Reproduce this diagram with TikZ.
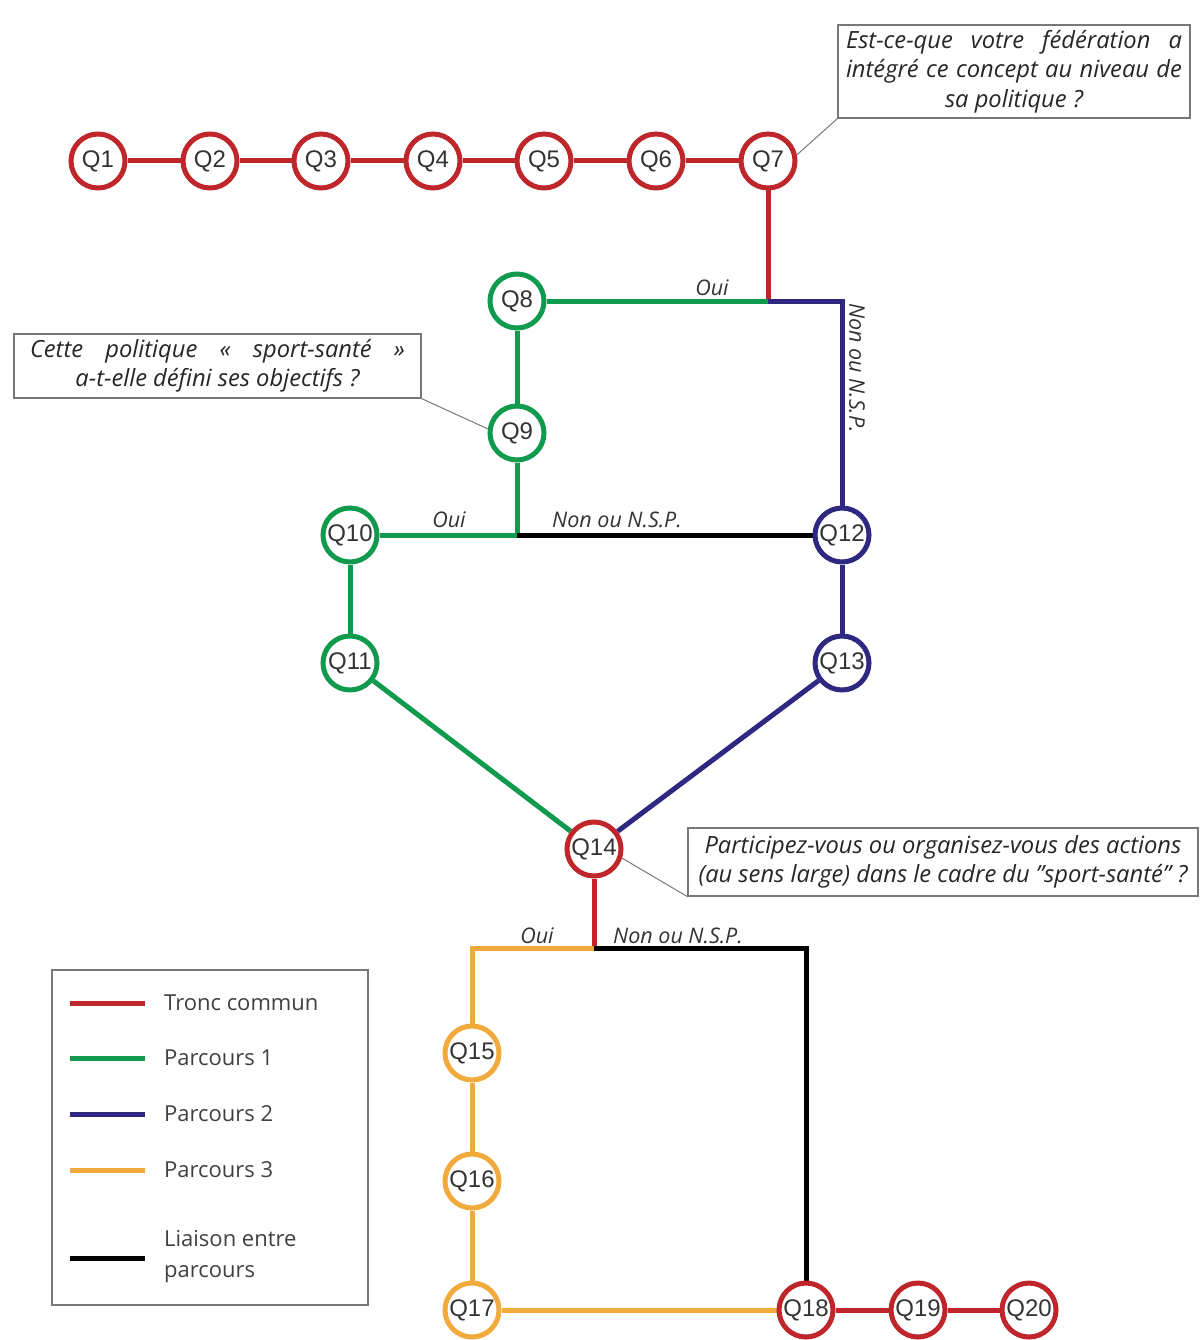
\documentclass[tikz,border=0pt]{standalone}
\usepackage{fontspec}
\setmainfont{Open Sans}
\newfontfamily\qfont{Liberation Sans}
\usetikzlibrary{backgrounds}
\definecolor{cred}{RGB}{190,38,44}
\definecolor{cgreen}{RGB}{16,154,78}
\definecolor{cpurple}{RGB}{46,40,128}
\definecolor{corange}{RGB}{242,170,60}
\definecolor{cgray}{RGB}{120,120,120}
\begin{document}
\begin{tikzpicture}[x=1pt,y=-1pt,
  q/.style={circle,draw,line width=5pt,fill=white,minimum size=54pt,inner sep=0pt,font=\qfont\fontsize{24}{26}\selectfont,text=black!80},
  qr/.style={q,draw=cred}, qg/.style={q,draw=cgreen}, qp/.style={q,draw=cpurple}, qo/.style={q,draw=corange},
  rt/.style={line width=5pt},
  lbl/.style={font=\itshape\fontsize{21.5}{23}\selectfont,text=black!80,inner sep=1pt},
  callout/.style={draw=cgray,line width=1.2pt,fill=white,inner sep=3pt,font=\itshape\fontsize{23.7}{29.5}\selectfont,text=black!85,align=center},
  pointer/.style={draw=cgray,line width=1pt},
  legtext/.style={font=\fontsize{22}{31}\selectfont,text=black!75,anchor=west,align=left,inner sep=0pt}]
\useasboundingbox (0,0) rectangle (1201,1340);
% nodes
\node[qr] (Q1) at (98,161) {Q1};
\node[qr] (Q2) at (210,161) {Q2};
\node[qr] (Q3) at (321,161) {Q3};
\node[qr] (Q4) at (433,161) {Q4};
\node[qr] (Q5) at (544,161) {Q5};
\node[qr] (Q6) at (656,161) {Q6};
\node[qr] (Q7) at (768,161) {Q7};
\node[qg] (Q8) at (517,301) {Q8};
\node[qg] (Q9) at (517,433) {Q9};
\node[qg] (Q10) at (350,535) {Q10};
\node[qg] (Q11) at (350,663) {Q11};
\node[qp] (Q12) at (842,535) {Q12};
\node[qp] (Q13) at (842,663) {Q13};
\node[qr] (Q14) at (594,849) {Q14};
\node[qo] (Q15) at (472,1053) {Q15};
\node[qo] (Q16) at (472,1181) {Q16};
\node[qo] (Q17) at (472,1310) {Q17};
\node[qr] (Q18) at (806,1310) {Q18};
\node[qr] (Q19) at (918,1310) {Q19};
\node[qr] (Q20) at (1029,1310) {Q20};
\coordinate (j1) at (768,301);
\coordinate (j1r) at (842,301);
\coordinate (j2) at (517,535);
\coordinate (j3) at (594,948);
\coordinate (j3l) at (472,948);
\coordinate (j3r) at (806,948);
\begin{scope}[on background layer]
\draw[rt,cred] (Q1)--(Q2) (Q2)--(Q3) (Q3)--(Q4) (Q4)--(Q5) (Q5)--(Q6) (Q6)--(Q7);
\draw[rt,cred] (Q7) -- ([yshift=2.5pt]j1);
\draw[rt,cgreen] (j1) -- (Q8);
\draw[rt,cpurple,line join=miter] (j1) -- (j1r) -- (Q12);
\draw[rt,cgreen] (Q8) -- (Q9);
\draw[rt,cgreen] (Q9) -- ([yshift=2.5pt]j2);
\draw[rt,cgreen] (j2) -- (Q10);
\draw[rt,black] (j2) -- (Q12);
\draw[rt,cgreen] (Q10) -- (Q11);
\draw[rt,cpurple] (Q12) -- (Q13);
\draw[rt,cgreen] (Q11) -- (Q14);
\draw[rt,cpurple] (Q13) -- (Q14);
\draw[rt,cred] (Q14) -- ([yshift=2.5pt]j3);
\draw[rt,corange,line join=miter] (j3) -- (j3l) -- (Q15);
\draw[rt,black,line join=miter] (j3) -- (j3r) -- (Q18);
\draw[rt,corange] (Q15) -- (Q16);
\draw[rt,corange] (Q16) -- (Q17);
\draw[rt,corange] (Q17) -- (Q18);
\draw[rt,cred] (Q18) -- (Q19) (Q19) -- (Q20);
\end{scope}
% branch labels
\node[lbl] (o1) at (712,288) {Oui};
\node[lbl,rotate=-90] (n1) at (857,368) {Non ou N.S.P.};
\node[lbl] (o2) at (449,520) {Oui};
\node[lbl] (n2) at (617,520) {Non ou N.S.P.};
\node[lbl] (o3) at (537,936) {Oui};
\node[lbl] (n3) at (678,936) {Non ou N.S.P.};
% callouts
\node[callout,minimum width=352pt,minimum height=93pt] (b1) at (1014,71.5) {\makebox[336pt][s]{Est-ce-que votre fédération a}\\\makebox[336pt][s]{intégré ce concept au niveau de}\\sa politique ?};
\node[callout,minimum width=407pt,minimum height=64pt] (b2) at (217.5,366) {\makebox[375pt][s]{Cette politique « sport-santé »}\\a-t-elle défini ses objectifs ?};
\node[callout,minimum width=510pt,minimum height=68pt] (b3) at (943,862) {Participez-vous ou organisez-vous des actions\\(au sens large) dans le cadre du "sport-santé" ?};
\draw[pointer] (b1.south west) -- (Q7.12);
\draw[pointer] (b2.south east) -- (Q9.172);
\draw[pointer] (b3.south west) -- (Q14.-18);
% legend
\node[draw=cgray,line width=1.5pt,minimum width=316pt,minimum height=335pt,inner sep=0pt] (leg) at (210,1137.5) {};
\coordinate (l1a) at (70,1003); \coordinate (l1b) at (145,1003);
\coordinate (l2a) at (70,1058); \coordinate (l2b) at (145,1058);
\coordinate (l3a) at (70,1114); \coordinate (l3b) at (145,1114);
\coordinate (l4a) at (70,1170); \coordinate (l4b) at (145,1170);
\coordinate (l5a) at (70,1258); \coordinate (l5b) at (145,1258);
\draw[rt,cred] (l1a) -- (l1b);
\draw[rt,cgreen] (l2a) -- (l2b);
\draw[rt,cpurple] (l3a) -- (l3b);
\draw[rt,corange] (l4a) -- (l4b);
\draw[rt,black] (l5a) -- (l5b);
\node[legtext] (t1) at (164,1003) {Tronc commun};
\node[legtext] (t2) at (164,1058) {Parcours 1};
\node[legtext] (t3) at (164,1114) {Parcours 2};
\node[legtext] (t4) at (164,1170) {Parcours 3};
\node[legtext] (t5) at (164,1257) {Liaison entre\\parcours};
\end{tikzpicture}
\end{document}
